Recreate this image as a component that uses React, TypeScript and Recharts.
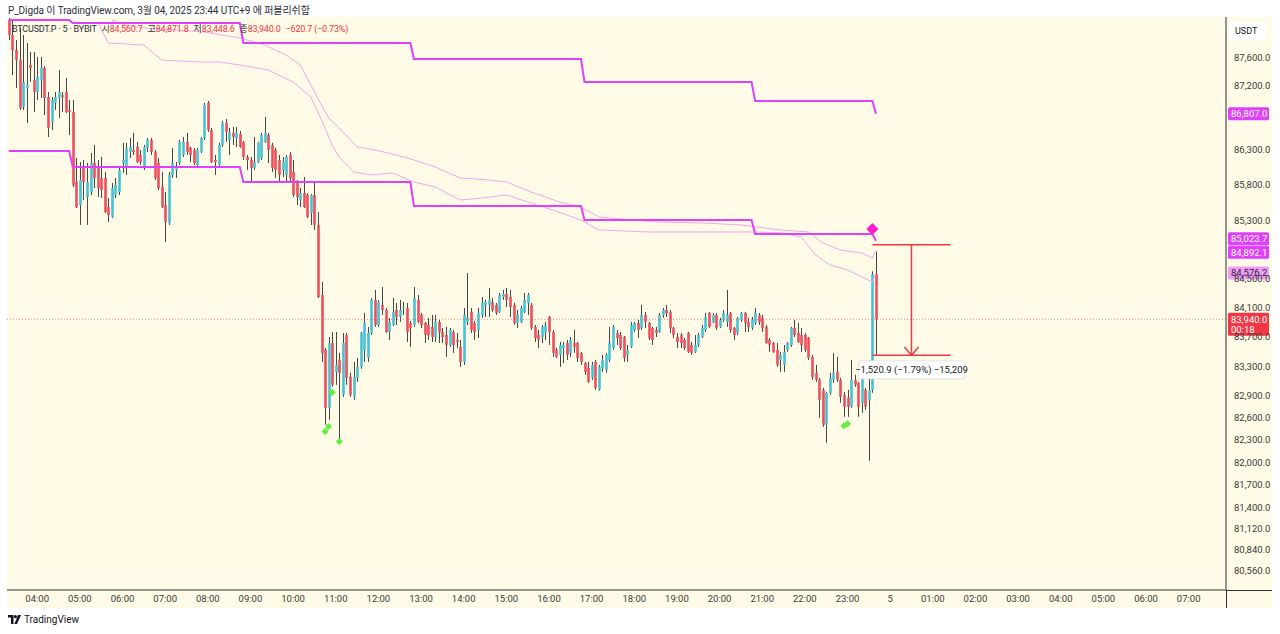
import {
  Bar,
  ComposedChart,
  Line,
  ReferenceLine,
  Scatter,
  XAxis,
  YAxis,
} from 'recharts'

const FONT = 'Roboto, "Noto Sans CJK KR", sans-serif'
const CREAM = '#fffbe6'
const UP = '#45c3d4'
const DOWN = '#ee4f5e'
const WICK = '#474747'
const MAGENTA = '#e040fb'
const PINK = '#f0a6ee'
const RED = '#f23645'
const LIME = '#5ff03a'

// 5 minute candles, 03:20 .. 23:40, [open, high, low, close]
const ohlc: number[][] = [
  [88145, 88174, 87858, 87930], [87930, 88145, 87357, 87715], [87715, 87858, 87172, 87571], [87571, 88030, 86860, 86888],
  [86902, 87930, 86860, 87258], [87172, 87815, 86676, 87215], [87500, 87686, 87258, 87457], [87286, 87686, 86831, 87115],
  [87115, 87614, 87001, 87329], [87286, 87614, 87030, 87457], [87457, 87485, 86788, 87030], [87044, 87115, 86478, 86605],
  [86690, 87044, 86577, 87001], [86959, 87115, 86860, 87044], [87030, 87429, 86746, 87115], [87072, 87115, 86831, 87044],
  [87115, 87314, 86817, 86831], [86860, 87001, 86506, 86831], [86831, 87001, 85774, 85802], [85844, 86181, 85479, 85493],
  [85521, 86125, 85244, 85872], [86041, 86153, 85591, 85844], [85633, 86111, 85244, 85844], [85703, 86252, 85661, 86111],
  [86111, 86365, 85760, 85900], [86041, 86153, 85633, 85760], [85900, 86195, 85619, 85732], [85900, 85985, 85410, 85424],
  [85493, 85619, 85285, 85382], [85355, 85830, 85341, 85760], [85661, 85900, 85619, 85802], [85703, 86041, 85661, 86013],
  [86111, 86394, 85971, 86153], [86055, 86394, 85943, 86323], [86266, 86464, 86181, 86337], [86295, 86535, 86224, 86266],
  [86337, 86408, 86111, 86125], [86224, 86295, 86083, 86125], [86041, 86365, 86013, 86337], [86323, 86464, 86266, 86436],
  [86436, 86464, 86224, 86266], [86266, 86295, 85872, 85900], [86111, 86181, 85732, 85760], [85774, 85985, 85479, 85493],
  [85521, 85703, 85007, 85285], [85271, 85985, 85244, 85943], [85943, 86323, 85900, 86111], [86013, 86125, 85900, 86041],
  [86111, 86436, 86083, 86408], [86224, 86478, 86195, 86408], [86408, 86535, 86224, 86266], [86323, 86337, 86125, 86224],
  [86295, 86323, 86083, 86111], [86083, 86323, 86041, 86295], [86266, 86478, 86252, 86464], [86464, 86959, 86436, 86930],
  [86959, 86987, 86549, 86577], [86577, 86605, 86111, 86125], [86153, 86224, 85943, 86125], [86083, 86394, 86041, 86365],
  [86365, 86704, 86337, 86676], [86676, 86732, 86408, 86549], [86436, 86605, 86224, 86535], [86535, 86619, 86365, 86478],
  [86464, 86619, 86337, 86535], [86521, 86563, 86323, 86337], [86408, 86422, 86153, 86195], [86195, 86224, 86013, 86153],
  [86153, 86195, 85830, 86041], [86041, 86478, 86013, 86125], [86125, 86408, 86111, 86394], [86181, 86535, 86153, 86506],
  [86408, 86760, 86394, 86535], [86506, 86535, 86111, 86295], [86365, 86394, 85985, 86041], [86295, 86323, 85900, 86013],
  [86153, 86224, 85844, 85943], [86013, 86195, 85914, 86125], [85943, 86224, 85844, 86195], [86224, 86266, 85830, 85900],
  [85985, 86153, 85633, 85661], [85844, 85872, 85521, 85633], [85591, 85760, 85493, 85689], [85689, 85914, 85480, 85493],
  [85661, 85689, 85341, 85355], [85410, 85675, 85244, 85661], [85661, 85830, 85174, 85244], [85244, 85424, 84233, 84247],
  [84274, 84453, 83358, 83480], [83521, 83548, 82506, 82735], [82735, 83698, 82573, 83616], [83616, 83766, 83019, 83046],
  [83222, 83766, 83046, 83317], [83385, 83480, 82276, 83209], [82911, 83753, 82884, 83616], [83725, 83753, 83046, 83141],
  [83155, 83209, 82884, 82911], [82884, 83358, 82843, 83155], [83141, 83412, 83087, 83290], [83290, 83766, 83263, 83753],
  [83521, 84027, 83358, 83890], [83412, 83835, 83358, 83753], [83753, 84233, 83725, 84206], [84206, 84343, 83835, 83862],
  [83862, 84206, 83835, 84178], [84137, 84384, 84000, 84068], [84068, 84096, 83753, 83766], [83766, 83959, 83657, 83904],
  [83862, 84233, 83849, 84041], [84068, 84165, 83862, 83972], [83972, 84206, 83904, 84068], [84096, 84178, 84000, 84110],
  [84096, 84165, 83630, 83766], [83890, 83917, 83562, 83821], [83862, 84384, 83835, 84233], [84206, 84274, 83890, 83904],
  [84000, 84027, 83821, 83862], [83890, 83904, 83616, 83725], [83862, 83959, 83657, 83725], [83835, 84000, 83630, 83698],
  [83698, 84000, 83630, 83904], [83904, 83931, 83616, 83766], [83766, 83821, 83616, 83698], [83725, 83835, 83426, 83589],
  [83589, 83821, 83562, 83794], [83766, 83794, 83480, 83589], [83657, 83753, 83548, 83630], [83562, 83657, 83290, 83358],
  [83358, 84096, 83317, 84000], [83904, 84577, 83862, 83959], [84041, 84096, 83753, 83794], [83890, 83917, 83657, 83766],
  [83794, 84096, 83684, 84027], [84000, 84247, 83959, 84165], [84137, 84206, 83972, 84178], [84137, 84370, 83972, 84206],
  [84178, 84233, 84041, 84068], [84137, 84165, 84000, 84027], [84041, 84302, 84027, 84274], [84247, 84343, 84206, 84288],
  [84288, 84370, 84110, 84206], [84247, 84343, 83972, 84110], [84137, 84165, 83862, 83890], [83890, 84068, 83821, 84000],
  [83904, 84123, 83890, 84096], [84041, 84302, 84027, 84206], [84165, 84302, 84000, 84274], [84137, 84165, 83794, 83821],
  [83835, 83862, 83630, 83684], [83725, 83794, 83548, 83657], [83698, 83862, 83616, 83835], [83753, 83904, 83657, 83862],
  [83972, 83985, 83589, 83766], [83766, 83794, 83426, 83480], [83521, 83548, 83412, 83426], [83453, 83630, 83290, 83589],
  [83548, 83630, 83344, 83589], [83616, 83657, 83385, 83453], [83480, 83698, 83426, 83657], [83616, 83794, 83480, 83562],
  [83616, 83630, 83358, 83412], [83480, 83494, 83317, 83358], [83344, 83358, 83182, 83222], [83276, 83358, 83073, 83087],
  [83141, 83358, 83114, 83317], [83358, 83385, 82978, 83005], [82978, 83317, 82965, 83290], [83276, 83453, 83222, 83385],
  [83250, 83480, 83209, 83453], [83385, 83835, 83358, 83616], [83548, 83862, 83521, 83835], [83753, 83794, 83589, 83684],
  [83725, 83766, 83521, 83548], [83698, 83712, 83358, 83412], [83453, 83589, 83358, 83521], [83562, 83904, 83548, 83862],
  [83794, 83904, 83766, 83890], [83890, 83931, 83684, 83794], [83821, 84137, 83794, 84000], [84000, 84041, 83821, 83904],
  [83890, 83904, 83657, 83684], [83821, 83835, 83589, 83657], [83794, 83835, 83698, 83753], [83766, 84027, 83753, 84000],
  [84000, 84096, 83959, 84068], [84068, 84137, 83972, 84027], [84041, 84068, 83753, 83821], [83821, 83835, 83684, 83725],
  [83698, 83753, 83548, 83630], [83725, 83753, 83548, 83616], [83657, 83684, 83521, 83548], [83753, 83766, 83480, 83494],
  [83589, 83630, 83453, 83480], [83494, 83725, 83480, 83589], [83589, 83753, 83562, 83725], [83698, 83862, 83684, 83821],
  [83794, 84027, 83766, 83972], [84027, 84041, 83821, 83835], [83904, 84027, 83890, 84000], [84000, 84027, 83794, 83821],
  [83835, 83959, 83821, 83931], [83931, 84068, 83904, 84027], [83904, 84343, 83835, 84000], [84027, 84041, 83753, 83794],
  [83821, 83835, 83657, 83725], [83753, 83972, 83725, 83959], [83931, 84041, 83904, 84027], [84027, 84041, 83766, 83890],
  [83904, 83959, 83766, 83835], [83821, 83972, 83794, 83931], [83890, 84096, 83862, 84027], [84000, 84027, 83862, 83904],
  [83959, 84000, 83766, 83821], [83835, 83862, 83605, 83616], [83657, 83684, 83494, 83589], [83616, 83630, 83480, 83494],
  [83521, 83616, 83290, 83317], [83385, 83494, 83222, 83453], [83317, 83589, 83222, 83494], [83521, 83630, 83494, 83616],
  [83589, 83835, 83562, 83821], [83821, 83931, 83698, 83725], [83753, 83890, 83616, 83630], [83725, 83821, 83494, 83589],
  [83725, 83753, 83494, 83521], [83684, 83698, 83385, 83412], [83426, 83453, 83114, 83155], [83209, 83317, 83087, 83114],
  [83114, 83141, 82600, 82843], [82978, 83005, 82479, 82506], [82506, 82951, 82263, 82938], [82938, 83209, 82911, 83141],
  [83114, 83480, 83073, 83209], [83222, 83426, 83087, 83114], [83114, 83141, 82803, 82884], [82911, 82951, 82614, 82749],
  [82870, 82978, 82614, 82749], [82749, 83385, 82735, 83114], [83114, 83182, 83019, 83046], [83073, 83087, 82614, 82749],
  [82803, 83141, 82668, 83114], [82978, 83005, 82708, 82749], [82843, 83385, 82021, 82978], [82978, 84600, 82938, 84560.7],
  [84560.7, 84871.8, 83448.6, 83940.0],
]

const firstSlotMinute = 3 * 60 + 20
const slotCount = 343

const tickLabels = [
  '04:00', '05:00', '06:00', '07:00', '08:00', '09:00', '10:00', '11:00', '12:00', '13:00',
  '14:00', '15:00', '16:00', '17:00', '18:00', '19:00', '20:00', '21:00', '22:00', '23:00',
  '5', '01:00', '02:00', '03:00', '04:00', '05:00', '06:00', '07:00',
]
const priceTicks = [
  87600, 87200, 86300, 85800, 85300, 84500, 84100, 83700, 83300, 82900,
  82600, 82300, 82000, 81700, 81400, 81120, 80840, 80560,
]

// 4h levels, each starting at a candle index
const stepStarts = [0, 18, 66, 114, 162, 210]
const upperSteps = [88145, 88102, 87815, 87586, 87258, 86987]
const lowerSteps = [86280, 86055, 85844, 85508, 85313, 85118]
const upperLast = 86807.0
const lowerLast = 85023.7

// thin band lines: [candle index, price]
const bandUpper = [
  [29, 88145], [33, 88073], [38, 88030], [47, 88002], [55, 87973], [65, 87887], [72, 87787],
  [78, 87643], [82, 87500], [85, 87215], [88, 86930], [90, 86746], [93, 86605], [98, 86337],
  [103, 86295], [109, 86224], [114, 86153], [120, 86055], [127, 85900], [135, 85872], [140, 85844],
  [147, 85703], [155, 85563], [161, 85493], [166, 85355], [175, 85313], [183, 85285], [195, 85271],
  [206, 85244], [217, 85174], [225, 85146], [229, 84993], [234, 84896], [240, 84854], [243, 84785],
  [244, 84892.1],
]
const bandLower = [
  [25, 88116], [28, 87815], [38, 87787], [43, 87571], [54, 87543], [59, 87543], [65, 87500],
  [73, 87429], [80, 87258], [85, 87044], [88, 86718], [91, 86365], [93, 86195], [97, 85985],
  [102, 85943], [108, 85971], [114, 85844], [120, 85774], [127, 85591], [133, 85619], [140, 85661],
  [147, 85549], [153, 85452], [161, 85313], [166, 85174], [180, 85146], [195, 85146], [209, 85146],
  [217, 85132], [223, 85077], [227, 84827], [231, 84688], [236, 84618], [243, 84453], [244, 84576.2],
]

const signals = [[89, 82415], [90, 82483], [91, 82942], [93, 82280], [235, 82493], [236, 82520]]

const pivotAt = [243, 85188]
const measureLabelAt = [254, 83250]
const measureFrom = 84969.5
const measureTo = 83448.6

const last = ohlc[ohlc.length - 1]
const prevClose = ohlc[ohlc.length - 2][3]

const pad = (n: number) => String(n).padStart(2, '0')
const slotTime = (i: number) => {
  const m = (firstSlotMinute + i * 5) % (24 * 60)
  return `${pad(Math.floor(m / 60))}:${pad(m % 60)}`
}

const stepAt = (levels: number[], end: number, i: number) => {
  if (i >= ohlc.length) return undefined
  if (i === ohlc.length - 1) return end
  let k = 0
  stepStarts.forEach((s, j) => {
    if (i >= s) k = j
  })
  return levels[k]
}

const upperMap = new Map(bandUpper.map(([i, v]) => [i, v]))
const lowerMap = new Map(bandLower.map(([i, v]) => [i, v]))
const signalMap = new Map(signals.map(([i, v]) => [i, v]))

const rows = Array.from({ length: slotCount }, (_, i) => {
  const k = ohlc[i]
  return {
    i,
    time: slotTime(i),
    hl: k ? [k[2], k[1]] : undefined,
    open: k ? k[0] : undefined,
    close: k ? k[3] : undefined,
    up: stepAt(upperSteps, upperLast, i),
    lo: stepAt(lowerSteps, lowerLast, i),
    b1: upperMap.get(i),
    b2: lowerMap.get(i),
    sig: signalMap.get(i),
    pv: i === pivotAt[0] ? pivotAt[1] : undefined,
    mb: i === measureLabelAt[0] ? measureLabelAt[1] : undefined,
  }
})

const tickIdx = tickLabels.map((_, k) => 8 + k * 12)

const fmt = (v: number, d = 1) =>
  v.toLocaleString('en-US', { minimumFractionDigits: d, maximumFractionDigits: d })
const signed = (s: string) => s.replace('-', '\u2212')
const ok = (cx: any, cy: any) => Number.isFinite(cx) && Number.isFinite(cy)

function Candle(props: any) {
  const { x, y, width, height, payload } = props
  if (!payload || !payload.hl) return null
  const [low, high] = payload.hl
  const top = Math.min(y, y + height)
  const bot = Math.max(y, y + height)
  const span = Math.log(high) - Math.log(low) || 1
  const at = (p: number) => top + ((bot - top) * (Math.log(high) - Math.log(p))) / span
  const cx = Math.round(x + width / 2) + 0.5
  const rising = payload.close >= payload.open
  const y1 = at(Math.max(payload.open, payload.close))
  const y2 = at(Math.min(payload.open, payload.close))
  return (
    <g>
      <line x1={cx} x2={cx} y1={top} y2={bot} stroke={WICK} strokeWidth={1} />
      <rect x={cx - 1.3} y={y1} width={2.6} height={Math.max(1, y2 - y1)} fill={rising ? UP : DOWN} />
    </g>
  )
}

function Signal(props: any) {
  const { cx, cy } = props
  if (!ok(cx, cy)) return null
  return <path d={`M${cx},${cy - 3.5} L${cx + 3.5},${cy} L${cx},${cy + 3.5} L${cx - 3.5},${cy} Z`} fill={LIME} />
}

function Pivot(props: any) {
  const { cx, cy } = props
  if (!ok(cx, cy)) return null
  return <path d={`M${cx},${cy - 6} L${cx + 6},${cy} L${cx},${cy + 6} L${cx - 6},${cy} Z`} fill="#ff19d5" />
}

function MeasureBox(props: any) {
  const { cx, cy } = props
  if (!ok(cx, cy)) return null
  const diff = measureTo - measureFrom
  const pct = (diff / measureFrom) * 100
  const text = `${signed(fmt(diff))} (${signed(fmt(pct, 2))}%) ${signed(fmt(diff * 10, 0))}`
  return (
    <g>
      <rect x={cx - 53} y={cy - 9} width={106} height={18} rx={2} fill="#ffffff" stroke="#e3e3e3" />
      <text x={cx} y={cy + 3.5} textAnchor="middle" fontSize={9.5} fill="#131722" fontFamily={FONT}>
        {text}
      </text>
    </g>
  )
}

function PriceTag(props: any) {
  const { viewBox, text, sub, bg, color, dy = 0 } = props
  if (!viewBox) return null
  const x = viewBox.x + viewBox.width + 2
  const h = sub ? 23 : 13
  const y = viewBox.y - 6.5 + dy
  return (
    <g>
      <rect x={x} y={y} width={41} height={h} rx={1.5} fill={bg} />
      <text x={x + 3} y={y + 9.8} fontSize={9.5} fill={color} fontFamily={FONT}>
        {text}
      </text>
      {sub && (
        <text x={x + 3} y={y + 20.5} fontSize={9.5} fill={color} fontFamily={FONT}>
          {sub}
        </text>
      )}
    </g>
  )
}

const measureLine = { stroke: RED, strokeWidth: 1.5, ifOverflow: 'visible' as const }
const axisTick = { fontSize: 9.5, fill: '#3a3a3a', fontFamily: FONT }

export default function App() {
  const change = last[3] - prevClose
  const changePct = (change / prevClose) * 100
  const legendValue = { color: RED }
  const legendKey = { marginLeft: 5 }
  return (
    <div
      style={{
        position: 'absolute',
        left: 0,
        top: 0,
        width: 1280,
        height: 634,
        background: '#ffffff',
        fontFamily: FONT,
        overflow: 'hidden',
      }}
    >
      <div style={{ position: 'absolute', left: 8, top: 2, fontSize: 10, color: '#2a2e39', whiteSpace: 'nowrap', letterSpacing: -0.1 }}>
        P_Digda 이 TradingView.com, 3월 04, 2025 23:44 UTC+9 에 퍼블리쉬함
      </div>
      <div style={{ position: 'absolute', left: 7, top: 17, width: 1265, height: 591, background: CREAM }}>
        <ComposedChart width={1265} height={591} data={rows} margin={{ top: 0, right: 0, bottom: 0, left: 0 }}>
          <XAxis
            dataKey="i"
            type="category"
            height={18}
            ticks={tickIdx}
            interval={0}
            tickFormatter={(v: number) => tickLabels[(v - 8) / 12]}
            axisLine={{ stroke: '#2a2e39' }}
            tickLine={false}
            tickSize={0}
            tickMargin={5}
            tick={axisTick}
          />
          <YAxis
            orientation="right"
            width={46}
            type="number"
            scale="log"
            domain={[80309, 88189]}
            allowDataOverflow
            ticks={priceTicks}
            interval={0}
            tickFormatter={(v: number) => fmt(v)}
            axisLine={{ stroke: '#2a2e39' }}
            tickLine={false}
            tickSize={0}
            tickMargin={8}
            tick={axisTick}
          />
          <ReferenceLine y={last[3]} stroke={RED} strokeOpacity={0.6} strokeDasharray="1 2" />
          <Bar dataKey="hl" shape={<Candle />} isAnimationActive={false} />
          <Line dataKey="b1" type="linear" stroke={PINK} strokeWidth={1} dot={false} activeDot={false} connectNulls isAnimationActive={false} />
          <Line dataKey="b2" type="linear" stroke={PINK} strokeWidth={1} dot={false} activeDot={false} connectNulls isAnimationActive={false} />
          <Line dataKey="up" type="linear" stroke={MAGENTA} strokeWidth={2} dot={false} activeDot={false} isAnimationActive={false} />
          <Line dataKey="lo" type="linear" stroke={MAGENTA} strokeWidth={2} dot={false} activeDot={false} isAnimationActive={false} />
          <Scatter dataKey="sig" shape={<Signal />} isAnimationActive={false} />
          <Scatter dataKey="pv" shape={<Pivot />} isAnimationActive={false} />
          <ReferenceLine segment={[{ x: 243, y: measureFrom }, { x: 265, y: measureFrom }]} {...measureLine} />
          <ReferenceLine segment={[{ x: 243, y: measureTo }, { x: 265, y: measureTo }]} {...measureLine} />
          <ReferenceLine segment={[{ x: 254, y: measureFrom }, { x: 254, y: measureTo }]} {...measureLine} />
          <ReferenceLine segment={[{ x: 252, y: 83562 }, { x: 254, y: measureTo }]} {...measureLine} />
          <ReferenceLine segment={[{ x: 256, y: 83562 }, { x: 254, y: measureTo }]} {...measureLine} />
          <Scatter dataKey="mb" shape={<MeasureBox />} isAnimationActive={false} />
          <ReferenceLine y={upperLast} stroke="none" ifOverflow="visible" label={<PriceTag text={fmt(upperLast)} bg={MAGENTA} color="#ffffff" />} />
          <ReferenceLine y={lowerLast} stroke="none" ifOverflow="visible" label={<PriceTag text={fmt(lowerLast)} bg={MAGENTA} color="#ffffff" dy={-2} />} />
          <ReferenceLine y={84892.1} stroke="none" ifOverflow="visible" label={<PriceTag text={fmt(84892.1)} bg={MAGENTA} color="#ffffff" dy={2} />} />
          <ReferenceLine y={84576.2} stroke="none" ifOverflow="visible" label={<PriceTag text={fmt(84576.2)} bg="#ec9ff3" color="#3b1a45" />} />
          <ReferenceLine y={last[3]} stroke="none" ifOverflow="visible" label={<PriceTag text={fmt(last[3])} sub="00:18" bg={RED} color="#ffffff" />} />
        </ComposedChart>
        <div style={{ position: 'absolute', left: 1219, top: 573, width: 1, height: 18, background: '#2a2e39' }} />
        <div style={{ position: 'absolute', left: 1219, top: 573, width: 46, height: 1, background: '#2a2e39' }} />
        <div
          style={{
            position: 'absolute',
            left: 1222,
            top: 5,
            width: 37,
            height: 18,
            background: '#ffffff',
            borderRadius: 2,
            fontSize: 9,
            lineHeight: '18px',
            color: '#131722',
            paddingLeft: 6,
            boxSizing: 'border-box',
          }}
        >
          USDT
        </div>
        <div
          style={{
            position: 'absolute',
            left: 5,
            top: 5,
            fontSize: 9,
            letterSpacing: -0.2,
            color: '#2a2e39',
            whiteSpace: 'nowrap',
          }}
        >
          BTCUSDT.P · 5 · BYBIT
          <span style={legendKey}>시</span>
          <span style={legendValue}>{fmt(last[0])}</span>
          <span style={legendKey}>고</span>
          <span style={legendValue}>{fmt(last[1])}</span>
          <span style={legendKey}>저</span>
          <span style={legendValue}>{fmt(last[2])}</span>
          <span style={legendKey}>종</span>
          <span style={legendValue}>{fmt(last[3])}</span>
          <span style={{ ...legendValue, ...legendKey }}>
            {signed(fmt(change))} ({signed(fmt(changePct, 2))}%)
          </span>
        </div>
      </div>
      <div style={{ position: 'absolute', left: 8, top: 614, display: 'flex', alignItems: 'center', gap: 3 }}>
        <svg width={13} height={9} viewBox="0 0 13 9">
          <path d="M0 0h5.5v9H3V2.4H0z" fill="#131722" />
          <circle cx={7.4} cy={1.6} r={1.6} fill="#131722" />
          <path d="M10 0h3l-4 9H6.4z" fill="#131722" />
        </svg>
        <span style={{ fontSize: 10, color: '#131722' }}>TradingView</span>
      </div>
    </div>
  )
}
